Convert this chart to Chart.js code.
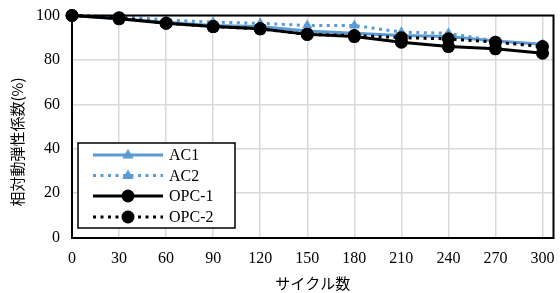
<!DOCTYPE html>
<html><head><meta charset="utf-8">
<script src="https://cdn.jsdelivr.net/npm/chart.js@4.4.1/dist/chart.umd.min.js"></script>
<style>html,body{margin:0;padding:0;background:#fff;}#wrap{width:560px;height:293px;position:relative;}</style>
</head><body><div id="wrap"><canvas id="c" width="560" height="293"></canvas></div>
<script>
const cycles = [0, 30, 60, 90, 120, 150, 180, 210, 240, 270, 300];
const ac1 = [100, 98.5, 97, 95.5, 95, 93, 92, 91, 90.5, 88.5, 87];
const ac2 = [100, 99.5, 98, 97, 96.5, 95.5, 95.5, 92.5, 92, 88.5, 86.5];
const opc1 = [100, 98.5, 96.5, 95, 94, 91.5, 90.5, 88, 86, 85, 83];
const opc2 = [100, 99, 96.5, 95, 94, 91.5, 91, 90, 89.5, 88, 86];
const seriesNames = ['AC1', 'AC2', 'OPC-1', 'OPC-2'];
const xTitle = 'サイクル数';
const yTitle = '相対動弾性係数(%)';

const BLUE = '#5b9bd5';
const serif = "'Liberation Serif', 'Times New Roman', serif";
const cjk = "'Noto Sans CJK JP', sans-serif";

function pts(arr){ return cycles.map((x,i)=>({x:x, y:arr[i]})); }

const styles = [
  {color: BLUE, dash: [], shape: 'triangle', r: 6},
  {color: BLUE, dash: [3, 4.5], shape: 'triangle', r: 6},
  {color: '#000', dash: [], shape: 'circle', r: 6.5},
  {color: '#000', dash: [3, 4.5], shape: 'circle', r: 6.5}
];
const values = [ac1, ac2, opc1, opc2];

const datasets = values.map((v, i) => ({
  label: seriesNames[i],
  data: pts(v),
  borderColor: styles[i].color,
  backgroundColor: styles[i].color,
  borderWidth: 3,
  borderDash: styles[i].dash,
  pointStyle: styles[i].shape,
  pointRadius: styles[i].r,
  pointBorderWidth: 0,
  pointBackgroundColor: styles[i].color,
  tension: 0,
  clip: false,
  order: 3 - i
}));

const framePlugin = {
  id: 'frame',
  afterDraw(chart) {
    const ctx = chart.ctx, a = chart.chartArea;
    ctx.save();
    ctx.strokeStyle = '#000';
    ctx.lineWidth = 2;
    ctx.beginPath();
    ctx.moveTo(a.left, a.top); ctx.lineTo(a.right, a.top); ctx.lineTo(a.right, a.bottom);
    ctx.stroke();
    // y title
    ctx.save();
    ctx.translate(17, 142);
    ctx.rotate(-Math.PI / 2);
    ctx.font = '15px ' + cjk;
    ctx.fillStyle = '#000';
    ctx.textAlign = 'center';
    ctx.textBaseline = 'middle';
    ctx.fillText(yTitle, 0, 0);
    ctx.restore();
    // legend
    const lx = 78, ly = 143, lw = 157, lh = 85;
    ctx.fillStyle = '#fff';
    ctx.fillRect(lx, ly, lw, lh);
    ctx.lineWidth = 1.5;
    ctx.strokeRect(lx, ly, lw, lh);
    const rows = [155, 175.5, 196, 217];
    ctx.font = '16px ' + serif;
    ctx.textBaseline = 'middle';
    rows.forEach((y, i) => {
      const s = styles[i];
      ctx.strokeStyle = s.color;
      ctx.lineWidth = 3;
      ctx.setLineDash(s.dash);
      ctx.beginPath(); ctx.moveTo(93, y); ctx.lineTo(163, y); ctx.stroke();
      ctx.setLineDash([]);
      ctx.fillStyle = s.color;
      if (s.shape === 'triangle') {
        const r = 6;
        ctx.beginPath();
        ctx.moveTo(128, y - r);
        ctx.lineTo(128 + r * 0.95, y + r * 0.6);
        ctx.lineTo(128 - r * 0.95, y + r * 0.6);
        ctx.closePath(); ctx.fill();
      } else {
        ctx.beginPath(); ctx.arc(128, y, 6.5, 0, Math.PI * 2); ctx.fill();
      }
      ctx.fillStyle = '#000';
      ctx.fillText(seriesNames[i], 169, y + 1);
    });
    ctx.restore();
  }
};

new Chart(document.getElementById('c'), {
  type: 'line',
  data: { datasets },
  options: {
    responsive: false,
    animation: false,
    layout: { padding: { top: 15.5, right: 1, left: 0, bottom: 0 } },
    plugins: { legend: { display: false }, tooltip: { enabled: false } },
    scales: {
      x: {
        type: 'linear', min: 0, max: 307,
        afterBuildTicks: (s) => { s.ticks = cycles.map(v => ({ value: v })); },
        afterFit: (s) => { s.height = 55.5; s.paddingLeft = 0; s.paddingRight = 0; },
        ticks: { stepSize: 30, color: '#000', font: { family: serif, size: 16 }, padding: 12, maxRotation: 0, autoSkip: false },
        grid: { color: '#d9d9d9', lineWidth: 1.5, drawTicks: false },
        border: { color: '#000', width: 2 },
        title: { display: true, text: xTitle, color: '#000', font: { family: cjk, size: 15 }, padding: { top: 0, bottom: 1 } }
      },
      y: {
        min: 0, max: 100,
        afterFit: (s) => { s.width = 72; s.paddingTop = 0; s.paddingBottom = 0; },
        ticks: { stepSize: 20, color: '#000', font: { family: serif, size: 16 }, padding: 12 },
        grid: { color: '#d9d9d9', lineWidth: 1.5, drawTicks: false },
        border: { color: '#000', width: 2 },
        title: { display: false }
      }
    }
  },
  plugins: [framePlugin]
});
</script></body></html>
